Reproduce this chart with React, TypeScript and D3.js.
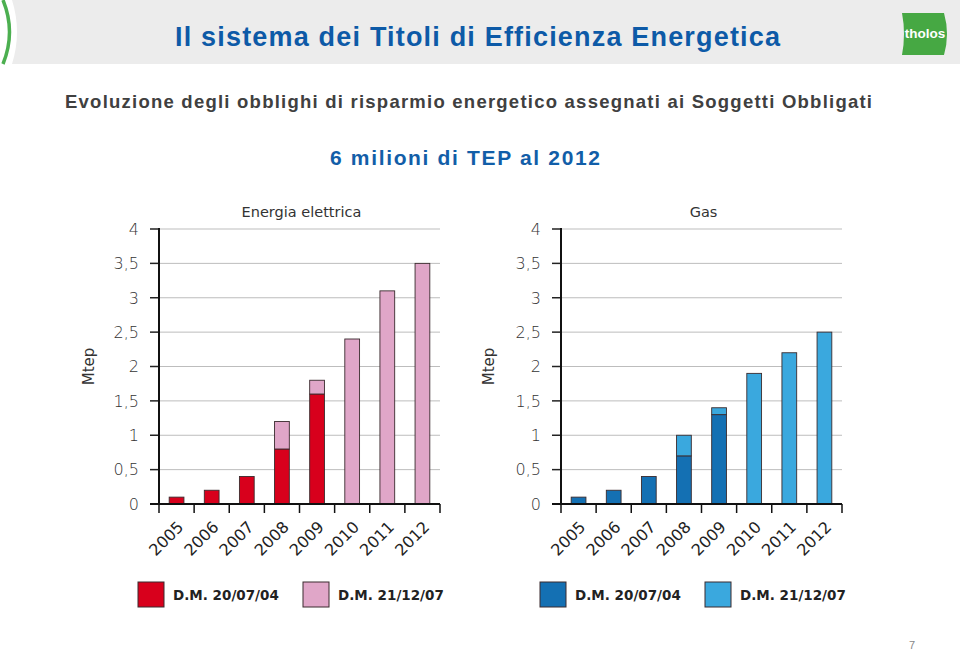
import React from 'react';
import * as d3 from 'd3';

const years = ['2005', '2006', '2007', '2008', '2009', '2010', '2011', '2012'];
const elecDM04 = [0.1, 0.2, 0.4, 0.8, 1.6, 0, 0, 0];
const elecDM07 = [0, 0, 0, 0.4, 0.2, 2.4, 3.1, 3.5];
const gasDM04 = [0.1, 0.2, 0.4, 0.7, 1.3, 0, 0, 0];
const gasDM07 = [0, 0, 0, 0.3, 0.1, 1.9, 2.2, 2.5];
const yTicks = [0, 0.5, 1, 1.5, 2, 2.5, 3, 3.5, 4];
const seriesNames = ['D.M. 20/07/04', 'D.M. 21/12/07'];

const locale = d3.formatLocale({ decimal: ',', thousands: '.', grouping: [3], currency: ['€', ''] });
const fmt = locale.format('~g');

const DIN = "'DejaVu Sans', 'Liberation Sans', sans-serif";
const ARIAL = "'Liberation Sans', Arial, sans-serif";

type PanelProps = {
  title: string;
  a: number[];
  b: number[];
  colors: [string, string];
  x0: number;
  x1: number;
  mtepX: number;
  legendX: [number, number];
};

function Panel({ title, a, b, colors, x0, x1, mtepX, legendX }: PanelProps) {
  const y = d3.scaleLinear().domain([0, 4]).range([504, 229]);
  const x = d3.scaleBand<string>().domain(years).range([x0, x1]).padding(0);
  const rows = years.map((yr, i) => ({ year: yr, a: a[i], b: b[i] }));
  const stack = d3.stack<any>().keys(['a', 'b'])(rows);
  const bw = x.bandwidth() * 0.42;
  return (
    <g>
      <text x={(x0 + x1) / 2 + 2} y={217} textAnchor="middle" fontFamily={DIN} fontSize={14.5} fill="#333">{title}</text>
      {yTicks.map((t) => (
        <g key={t}>
          {t > 0 && <line x1={x0} x2={x1} y1={y(t)} y2={y(t)} stroke="#bdbdbd" strokeWidth={1} />}
          <line x1={x0 - 9} x2={x0} y1={y(t)} y2={y(t)} stroke="#222" strokeWidth={1.5} />
          <text x={x0 - 20} y={y(t)} dy="0.36em" textAnchor="end" fontFamily={DIN} fontSize={16} fontWeight={300} fill="#333">{fmt(t)}</text>
        </g>
      ))}
      <text transform={`translate(${mtepX},${y(2)}) rotate(-90)`} textAnchor="middle" dy="0.35em" fontFamily={DIN} fontSize={15} fill="#333">Mtep</text>
      {stack.map((s, si) => (
        <g key={si}>
          {s.map((d: any, i: number) => (d[1] - d[0] > 0 ? (
            <rect key={i} x={(x(years[i]) as number) + (x.bandwidth() - bw) / 2} y={y(d[1])} width={bw} height={y(d[0]) - y(d[1])} fill={colors[si]} stroke="#3a2b2e" strokeWidth={0.9} />
          ) : null))}
        </g>
      ))}
      <line x1={x0} x2={x0} y1={y(4) - 1} y2={y(0)} stroke="#111" strokeWidth={2} />
      <line x1={x0 - 9} x2={x1} y1={y(0)} y2={y(0)} stroke="#111" strokeWidth={2} />
      {[...years.map((yr) => x(yr) as number), x1].map((px, i) => (
        <line key={i} x1={px} x2={px} y1={y(0)} y2={y(0) + 9} stroke="#111" strokeWidth={1.5} />
      ))}
      {years.map((yr) => (
        <text key={yr} transform={`translate(${(x(yr) as number) + x.bandwidth() / 2 + 8},${528}) rotate(-45)`} textAnchor="end" fontFamily={DIN} fontSize={16} fill="#222">{yr}</text>
      ))}
      {seriesNames.map((n, i) => (
        <g key={n}>
          <rect x={legendX[i]} y={582} width={26} height={25} fill={colors[i]} stroke="#3a2b2e" strokeWidth={1} />
          <text x={legendX[i] + 35} y={600} fontFamily={DIN} fontSize={13.5} fontWeight="bold" fill="#222">{n}</text>
        </g>
      ))}
    </g>
  );
}

export default function App() {
  return (
    <svg width={960} height={650} style={{ position: 'absolute', left: 0, top: 0, background: '#fff' }}>
      <rect width={960} height={650} fill="#fff" />
      <path d="M12,0 H960 V64 H12 Q22,32 12,0 Z" fill="#ececec" />
      <path d="M3,0 Q16,32 3,64" fill="none" stroke="#4caf50" strokeWidth={3.5} />
      <text x={175} y={46} fontFamily={ARIAL} fontWeight="bold" fontSize={27} fill="#0d5aa7" textLength={605} lengthAdjust="spacing">Il sistema dei Titoli di Efficienza Energetica</text>
      <path d="M902,13 H944 Q950,34 944,55 H902 Q906,34 902,13 Z" fill="#46a843" />
      <text x={925} y={38} textAnchor="middle" fontFamily={ARIAL} fontWeight="bold" fontSize={13.5} fill="#fff">tholos</text>
      <text x={65} y={108} fontFamily={ARIAL} fontWeight="bold" fontSize={18.5} fill="#404040" textLength={807} lengthAdjust="spacing">Evoluzione degli obblighi di risparmio energetico assegnati ai Soggetti Obbligati</text>
      <text x={330} y={165} fontFamily={ARIAL} fontWeight="bold" fontSize={21} fill="#125ea8" textLength={270} lengthAdjust="spacing">6 milioni di TEP al 2012</text>
      <Panel title="Energia elettrica" a={elecDM04} b={elecDM07} colors={['#d8001c', '#e0a6c8']} x0={159} x1={440} mtepX={89} legendX={[138, 303]} />
      <Panel title="Gas" a={gasDM04} b={gasDM07} colors={['#1470b3', '#3aa8de']} x0={561} x1={842} mtepX={489} legendX={[540, 705]} />
      <text x={912} y={649} textAnchor="middle" fontFamily={ARIAL} fontSize={11} fill="#888">7</text>
    </svg>
  );
}
